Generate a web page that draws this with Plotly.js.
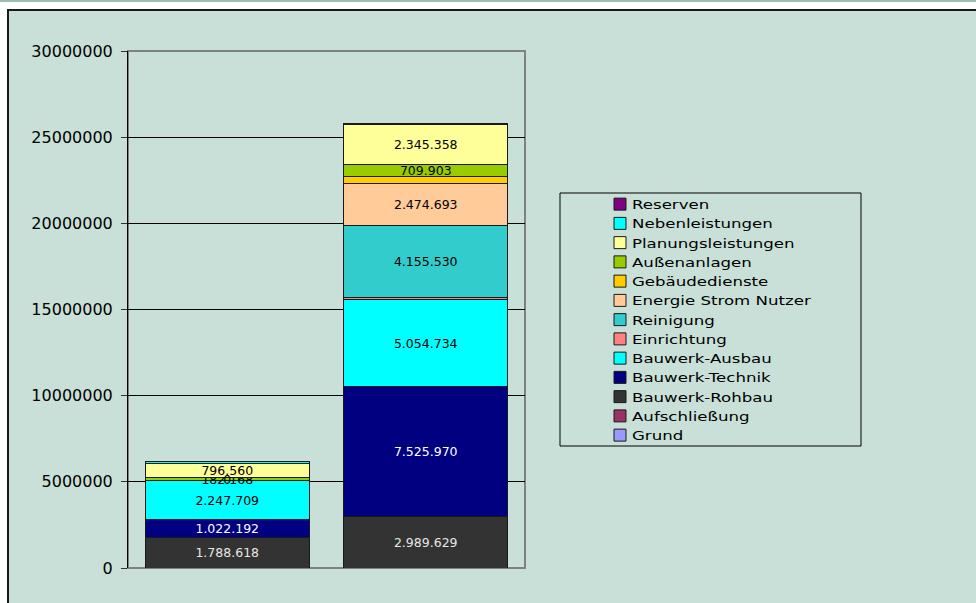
<!DOCTYPE html>
<html>
<head>
<meta charset="utf-8">
<script src="https://cdn.plot.ly/plotly-3.0.1.min.js"></script>
<style>
  html, body { margin: 0; padding: 0; background: #ffffff; overflow: hidden; }
  #strip { position: absolute; left: 0; top: 0; width: 976px; height: 2px; background: #9fbcb0; }
  #frame { position: absolute; left: 7px; top: 9px; width: 1000px; height: 700px;
           border-left: 2px solid #1a1a1a; border-top: 2px solid #1a1a1a; background: #c9e0d8; }
  #chart { position: absolute; left: 0; top: 0; width: 976px; height: 603px; }
  /* widen legend labels */
  #chart .legendtext { transform-box: fill-box; transform-origin: 0 50%;
                       transform: translateX(-8px) scaleX(1.33); }
  #chart .legend .scrollbox { clip-path: none !important; }
</style>
</head>
<body>
<div id="strip"></div>
<div id="frame"></div>
<div id="chart"></div>
<script>
// Two cost variants, stacked by cost group (bottom to top)
const categories = ['Variante 1', 'Variante 2'];

const grund              = [0, 0];
const aufschliessung     = [0, 0];
const bauwerkRohbau      = [1788618, 2989629];
const bauwerkTechnik     = [1022192, 7525970];
const bauwerkAusbau      = [2247709, 5054734];
const einrichtung        = [0, 120000];
const reinigung          = [0, 4155530];
const energieStromNutzer = [0, 2474693];
const gebaeudedienste    = [0, 380000];
const aussenanlagen      = [182168, 709903];
const planungsleistungen = [796560, 2345358];
const nebenleistungen    = [130000, 50000];
const reserven           = [0, 0];

// which values carry a data label
const labelShown = {
  'Bauwerk-Rohbau':     [true, true],
  'Bauwerk-Technik':    [true, true],
  'Bauwerk-Ausbau':     [true, true],
  'Reinigung':          [false, true],
  'Energie Strom Nutzer': [false, true],
  'Gebäudedienste':     [true, false],
  'Außenanlagen':       [true, true],
  'Planungsleistungen': [true, true]
};

const series = [
  { name: 'Grund',                values: grund,              color: '#9999ff', text: '#000000' },
  { name: 'Aufschließung',        values: aufschliessung,     color: '#993366', text: '#000000' },
  { name: 'Bauwerk-Rohbau',       values: bauwerkRohbau,      color: '#333333', text: '#e6e6e6' },
  { name: 'Bauwerk-Technik',      values: bauwerkTechnik,     color: '#000080', text: '#ffffff' },
  { name: 'Bauwerk-Ausbau',       values: bauwerkAusbau,      color: '#00ffff', text: '#000000' },
  { name: 'Einrichtung',          values: einrichtung,        color: '#ff8080', text: '#000000' },
  { name: 'Reinigung',            values: reinigung,          color: '#33cccc', text: '#000000' },
  { name: 'Energie Strom Nutzer', values: energieStromNutzer, color: '#ffcc99', text: '#000000' },
  { name: 'Gebäudedienste',       values: gebaeudedienste,    color: '#ffcc00', text: '#000000' },
  { name: 'Außenanlagen',         values: aussenanlagen,      color: '#99cc00', text: '#000000' },
  { name: 'Planungsleistungen',   values: planungsleistungen, color: '#ffff99', text: '#000000' },
  { name: 'Nebenleistungen',      values: nebenleistungen,    color: '#00ffff', text: '#000000' },
  { name: 'Reserven',             values: reserven,           color: '#800080', text: '#000000' }
];

// German thousands separator: 1788618 -> 1.788.618
function deNumber(v) {
  return String(Math.round(v)).replace(/\B(?=(\d{3})+(?!\d))/g, '.');
}

const labelFont = { family: 'DejaVu Sans', size: 12.5 };

const traces = series.map(s => {
  const shown = labelShown[s.name] || [false, false];
  return {
    type: 'bar',
    name: s.name,
    x: categories,
    y: s.values,
    text: s.values.map((v, i) => (shown[i] && v > 0) ? deNumber(v) : ''),
    textposition: 'inside',
    insidetextanchor: 'middle',
    constraintext: 'none',
    textfont: Object.assign({ color: s.text }, labelFont),
    marker: { color: s.color, line: { color: '#1a1a1a', width: 1 } },
    hoverinfo: 'name+y'
  };
});

// Labels of zero-height segments: bars draw no text there, so place them
// at the segment's stack position on the shared axes.
const zeroLabels = { x: [], y: [], text: [], color: [] };
series.forEach((s, k) => {
  const shown = labelShown[s.name] || [false, false];
  s.values.forEach((v, i) => {
    if (shown[i] && v === 0) {
      const base = series.slice(0, k).reduce((acc, t) => acc + t.values[i], 0);
      zeroLabels.x.push(categories[i]);
      zeroLabels.y.push(base + v / 2);
      zeroLabels.text.push(deNumber(v));
      zeroLabels.color.push(s.text);
    }
  });
});
traces.push({
  type: 'scatter', mode: 'text', showlegend: false, hoverinfo: 'skip',
  x: zeroLabels.x, y: zeroLabels.y, text: zeroLabels.text,
  textposition: 'middle center',
  textfont: Object.assign({ color: zeroLabels.color }, labelFont)
});

const L = 128, R = 525, T = 51, B = 568, W = 976, H = 603;
const pw = R - L, ph = B - T;
const px = v => (v - L) / pw;
const py = v => 1 - (v - T) / ph;

const layout = {
  width: W, height: H,
  margin: { l: L, r: W - R, t: T, b: H - B, pad: 0 },
  paper_bgcolor: 'rgba(0,0,0,0)',
  plot_bgcolor: 'rgba(0,0,0,0)',
  barmode: 'stack',
  bargap: 0.174,
  showlegend: true,
  uniformtext: { mode: 'show', minsize: 12.5 },
  xaxis: {
    showticklabels: false, ticks: '', showgrid: false, zeroline: false, showline: false,
    fixedrange: true
  },
  yaxis: {
    range: [0, 30000000], dtick: 5000000, tick0: 0,
    tickformat: 'd', exponentformat: 'none',
    ticks: 'outside', ticklen: 6, tickcolor: '#333333', tickwidth: 1,
    ticklabelstandoff: 5,
    tickfont: { family: 'DejaVu Sans', size: 16, color: '#000000' },
    showgrid: true, gridcolor: '#000000', gridwidth: 1,
    zeroline: false,
    showline: true, linecolor: '#000000', linewidth: 1,
    fixedrange: true
  },
  legend: {
    traceorder: 'reversed',
    x: px(600), xanchor: 'left',
    y: py(189.5), yanchor: 'top',
    bgcolor: 'rgba(0,0,0,0)', borderwidth: 0,
    font: { family: 'DejaVu Sans', size: 12.5, color: '#000000' },
    itemclick: false, itemdoubleclick: false
  },
  shapes: [
    // plot area frame
    { type: 'rect', xref: 'paper', yref: 'paper', x0: 0, x1: 1, y0: 0, y1: 1,
      line: { color: '#808080', width: 2 }, fillcolor: 'rgba(0,0,0,0)', layer: 'below' },
    // legend frame
    { type: 'rect', xref: 'paper', yref: 'paper',
      x0: px(560), x1: px(861), y0: py(446), y1: py(193),
      line: { color: '#000000', width: 1 }, fillcolor: 'rgba(0,0,0,0)' }
  ]
};

Plotly.newPlot('chart', traces, layout, { displayModeBar: false, staticPlot: true });
</script>
</body>
</html>
